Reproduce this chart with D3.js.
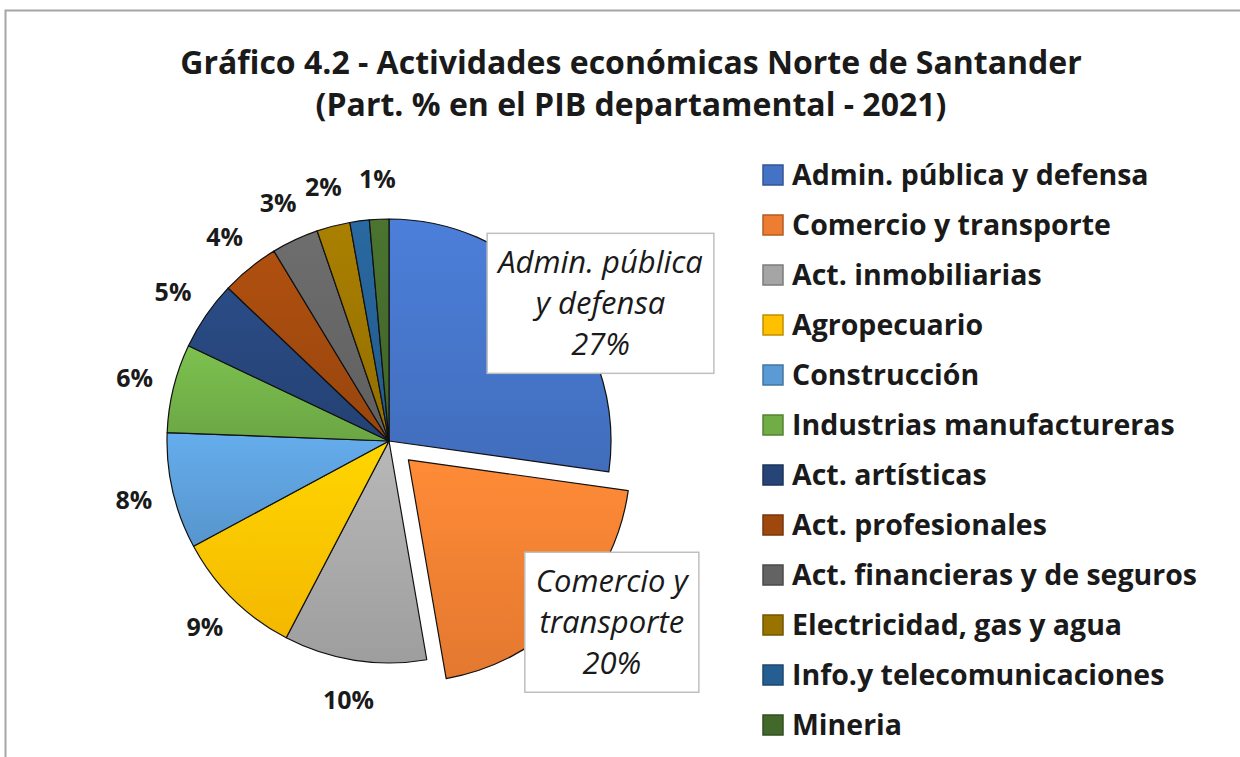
<!DOCTYPE html>
<html>
<head>
<meta charset="utf-8">
<script src="https://cdn.jsdelivr.net/npm/d3@7"></script>
<style>
  body { margin: 0; background: #fff; }
  svg { display: block; font-family: "Open Sans", Lato, sans-serif; }
</style>
</head>
<body>
<script>
// data
var sectors = ["Admin. pública y defensa", "Comercio y transporte", "Act. inmobiliarias",
  "Agropecuario", "Construcción", "Industrias manufactureras", "Act. artísticas",
  "Act. profesionales", "Act. financieras y de seguros", "Electricidad, gas y agua",
  "Info.y telecomunicaciones", "Mineria"]
var shares = [27.0, 19.9, 10.3, 9.4, 8.4, 6.4, 5.0, 4.2, 3.4, 2.4, 1.4, 1.4]
var colors = ["#4472C4", "#ED7D31", "#A5A5A5", "#FFC000", "#5B9BD5", "#70AD47",
  "#264478", "#9E480E", "#636363", "#997300", "#255E91", "#43682B"]
// the two big slices get a boxed callout, split over lines
var callouts = [["Admin. pública", "y defensa"], ["Comercio y", "transporte"]]
var titleLines = ["Gráfico 4.2 - Actividades económicas Norte de Santander",
  "(Part. % en el PIB departamental - 2021)"]

var W = 1240, H = 757
var cx = 389, cy = 441, r = 222, explode = 27

var svg = d3.select("body").append("svg").attr("width", W).attr("height", H)

// chart frame
svg.append("rect")
    .attr("x", 5.5).attr("y", 10.5)
    .attr("width", W + 20).attr("height", H + 20)
    .attr("fill", "none").attr("stroke", "#a6a6a6").attr("stroke-width", 2)

svg.selectAll("text.title")
    .data(titleLines).enter()
  .append("text")
    .attr("class", "title")
    .attr("x", 631)
    .attr("y", function(d, i){ return 74 + i * 42 })
    .attr("text-anchor", "middle")
    .attr("font-size", 32).attr("font-weight", 700).attr("fill", "#1a1a1a")
    .text(function(d){ return d })

var defs = svg.append("defs")
colors.forEach(function(c, i){
  var g = defs.append("linearGradient").attr("id", "grad" + i)
      .attr("x1", 0).attr("y1", 0).attr("x2", 0).attr("y2", 1)
  g.append("stop").attr("offset", "0%").attr("stop-color", d3.color(c).brighter(0.3))
  g.append("stop").attr("offset", "100%").attr("stop-color", d3.color(c).darker(0.12))
})

var pie = d3.pie().sort(null).value(function(d){ return d })
var arcs = pie(shares)
var arc = d3.arc().innerRadius(0).outerRadius(r)

function offset(d, i){
  if (i != 1) return [0, 0]
  var m = (d.startAngle + d.endAngle) / 2
  return [Math.sin(m) * explode, -Math.cos(m) * explode]
}

var g = svg.append("g").attr("transform", "translate(" + cx + "," + cy + ")")

g.selectAll("path.slice")
    .data(arcs).enter()
  .append("path")
    .attr("class", "slice")
    .attr("transform", function(d, i){ return "translate(" + offset(d, i) + ")" })
    .attr("d", arc)
    .attr("fill", function(d, i){ return "url(#grad" + i + ")" })
    .attr("stroke", "#111").attr("stroke-width", 1.2).attr("stroke-linejoin", "round")

// outside percentage labels (small slices); drop ones that collide
var lblR = r + 40
var placed = []
for (var i = arcs.length - 1; i >= callouts.length; i--) {
  var d = arcs[i], m = (d.startAngle + d.endAngle) / 2
  var x = Math.sin(m) * lblR, y = -Math.cos(m) * lblR
  var hit = placed.some(function(p){ return Math.abs(p.x - x) < 44 && Math.abs(p.y - y) < 26 })
  if (!hit) placed.push({x: x, y: y, t: Math.round(shares[i]) + "%"})
}

g.selectAll("text.pct")
    .data(placed).enter()
  .append("text")
    .attr("class", "pct")
    .attr("x", function(d){ return d.x })
    .attr("y", function(d){ return d.y })
    .attr("dy", "0.35em")
    .attr("text-anchor", "middle")
    .attr("font-size", 25).attr("font-weight", 700).attr("fill", "#1a1a1a")
    .text(function(d){ return d.t })

// boxed callouts for the two biggest sectors
callouts.forEach(function(lines, i){
  var d = arcs[i], m = (d.startAngle + d.endAngle) / 2, o = offset(d, i)
  var x = o[0] + Math.sin(m) * r + 44, y = o[1] - Math.cos(m) * r + 8
  var all = lines.concat([Math.round(shares[i]) + "%"])
  var cg = g.append("g").attr("transform", "translate(" + x + "," + y + ")")
  var box = cg.append("rect").attr("fill", "#fff").attr("stroke", "#bfbfbf").attr("stroke-width", 1.5)
  var t = cg.selectAll("text").data(all).enter().append("text")
      .attr("x", 0)
      .attr("y", function(s, j){ return (j - 1) * 41 })
      .attr("dy", "0.35em")
      .attr("text-anchor", "middle")
      .attr("font-size", 31).attr("font-style", "italic").attr("fill", "#1a1a1a")
      .text(function(s){ return s })
  var w = d3.max(t.nodes(), function(n){ return n.getComputedTextLength() }) + 22
  box.attr("x", -w / 2).attr("y", -70).attr("width", w).attr("height", 140)
})

// legend
var leg = svg.append("g").attr("transform", "translate(763,175)")
var row = leg.selectAll("g").data(sectors).enter().append("g")
    .attr("transform", function(d, i){ return "translate(0," + i * 50 + ")" })
row.append("rect")
    .attr("x", 0).attr("y", -10).attr("width", 20).attr("height", 20)
    .attr("fill", function(d, i){ return colors[i] })
    .attr("stroke", function(d, i){ return d3.color(colors[i]).darker(0.8) })
    .attr("stroke-width", 1.5)
row.append("text")
    .attr("x", 29).attr("y", 0).attr("dy", "0.35em")
    .attr("font-size", 28.5).attr("font-weight", 700).attr("fill", "#1a1a1a")
    .text(function(d){ return d })
</script>
</body>
</html>
